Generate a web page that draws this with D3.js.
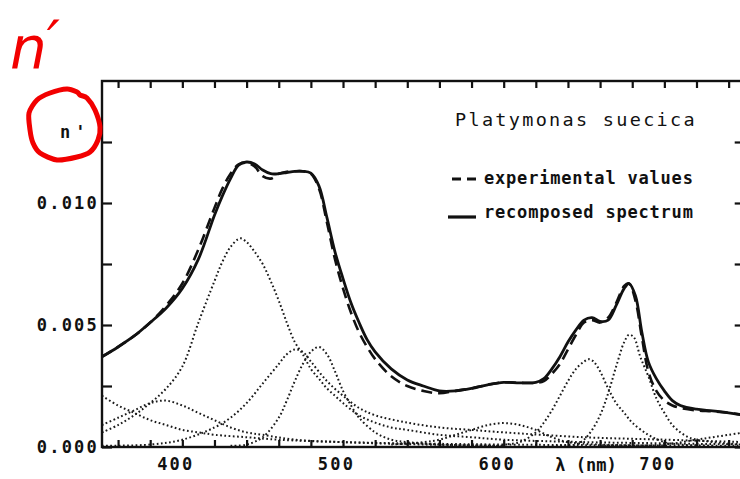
<!DOCTYPE html>
<html>
<head>
<meta charset="utf-8">
<script src="https://cdn.jsdelivr.net/npm/d3@7"></script>
<style>
  html, body { margin: 0; padding: 0; background: #fff; }
  svg { display: block; }
</style>
</head>
<body>
<script>
// ---------------- DATA ----------------
const lambda = [350,360,370,380,390,400,410,420,425,430,435,440,445,450,455,460,465,470,475,480,485,490,495,500,505,510,515,520,
  530,540,550,560,570,580,590,600,610,620,625,630,635,640,645,650,655,660,665,670,675,678,682,686,690,695,700,705,710,720,730,740,750];

const recomposed = [0.0037,0.0041,0.00455,0.0051,0.0057,0.0065,0.0077,0.0095,0.0103,0.0110,0.01155,0.01168,0.0116,0.01135,0.0112,0.0112,0.01125,0.0113,0.0113,0.01122,0.0107,0.0094,0.0080,0.0069,0.0059,0.0051,0.0044,0.0039,
  0.0032,0.00275,0.0025,0.0023,0.0023,0.0024,0.00255,0.00265,0.00263,0.00265,0.0028,0.0032,0.0037,0.0043,0.0048,0.0052,0.0053,0.00515,0.0052,0.0058,0.0065,0.0067,0.0062,0.0047,0.0035,0.0028,0.0023,0.0019,0.0017,0.00155,0.00148,0.0014,0.0013];

const experimental = [0.0037,0.0041,0.00455,0.0051,0.0058,0.0067,0.0081,0.0098,0.0106,0.0112,0.01158,0.01165,0.0115,0.0111,0.0110,0.0112,0.01128,0.0113,0.0113,0.0112,0.0106,0.0092,0.0077,0.0065,0.0055,0.0047,0.0041,0.0036,
  0.0029,0.0025,0.0023,0.0022,0.0023,0.0024,0.00255,0.00265,0.00263,0.00263,0.0027,0.0030,0.0034,0.0040,0.0046,0.0051,0.0052,0.0051,0.0053,0.0059,0.0066,0.0067,0.0060,0.0045,0.0031,0.0023,0.0019,0.0017,0.0016,0.0015,0.00146,0.0014,0.0013];

// Gaussian-like component bands: [wavelength nm, n']
const band436 = [[350,0.0006],[360,0.0009],[370,0.0013],[380,0.0018],[390,0.0024],[400,0.0033],[410,0.0051],[420,0.0068],[425,0.0076],[430,0.0082],[436,0.00855],[440,0.0084],[445,0.0080],[450,0.0075],[455,0.0068],[460,0.0060],[465,0.0051],[470,0.0043],[475,0.0038],[480,0.0032],[485,0.0028],[490,0.0024],[495,0.0021],[500,0.0018],[510,0.0013],[520,0.0010],[530,0.0008],[540,0.0007],[560,0.0005],[580,0.0004],[600,0.0003],[650,0.0002],[700,0.00015],[750,0.0001]];
const band470 = [[350,0.00005],[380,0.0001],[400,0.0003],[420,0.0008],[430,0.0012],[440,0.0018],[450,0.0026],[460,0.0034],[465,0.0038],[470,0.0040],[475,0.0039],[480,0.0035],[490,0.0027],[500,0.0021],[510,0.0016],[520,0.0013],[540,0.0010],[560,0.0008],[580,0.0007],[600,0.0006],[650,0.0004],[700,0.0003],[750,0.0002]];
const band485 = [[430,0.00005],[440,0.0001],[450,0.0004],[460,0.0012],[465,0.0019],[470,0.0027],[475,0.0034],[480,0.0039],[485,0.0041],[490,0.0038],[495,0.0031],[500,0.0023],[505,0.0017],[510,0.0012],[520,0.0006],[530,0.0003],[540,0.0002],[560,0.0001],[600,0.00005]];
const band390 = [[350,0.0009],[360,0.0012],[370,0.0015],[380,0.0018],[390,0.0019],[400,0.0017],[410,0.0014],[420,0.0011],[430,0.0008],[440,0.0006],[450,0.0005],[470,0.0003],[500,0.0002],[550,0.0001],[600,0.00005]];
const band340 = [[350,0.0021],[360,0.0017],[370,0.0014],[380,0.0011],[390,0.0009],[400,0.0007],[410,0.0006],[420,0.0005],[440,0.0004],[460,0.0003],[500,0.0002],[600,0.0001],[750,0.00005]];
const band600 = [[530,0.0001],[550,0.0002],[560,0.0003],[570,0.0005],[580,0.0007],[590,0.0009],[600,0.00098],[610,0.0009],[620,0.0007],[630,0.0004],[640,0.0002],[660,0.0001],[700,0.00005]];
const band653 = [[600,0.0001],[610,0.0002],[620,0.0006],[625,0.0010],[630,0.0015],[635,0.0021],[640,0.0027],[645,0.0032],[650,0.0035],[653,0.0036],[656,0.0035],[660,0.0031],[665,0.0024],[670,0.0018],[675,0.0014],[680,0.0010],[690,0.0005],[700,0.0002],[710,0.0001],[730,0.00005]];
const band678 = [[630,0.00005],[645,0.0001],[650,0.0003],[655,0.0007],[660,0.0013],[665,0.0022],[670,0.0033],[675,0.0043],[678,0.0046],[681,0.0045],[685,0.0037],[690,0.0029],[695,0.0020],[700,0.0014],[705,0.0009],[710,0.0006],[715,0.0004],[720,0.0003],[730,0.0002],[750,0.0001]];
const band750 = [[660,0.00005],[700,0.0001],[720,0.0003],[730,0.0004],[740,0.0005],[750,0.0006]];

const yTicks = [0, 0.0025, 0.005, 0.0075, 0.01, 0.0125];
const yLabeled = [0, 0.005, 0.01];
const xTicks = [360,380,400,420,440,460,480,500,520,540,560,580,600,620,640,660,680,700,720,740];
const xLabeled = [400, 500, 600, 700];

const titleText = "Platymonas suecica";
const legendLabels = ["experimental values", "recomposed spectrum"];
const xAxisLabel = "λ (nm)";
const yAxisLabel = "n'";
const annotation = "n";
const annotationPrime = "′";

// ---------------- DRAW ----------------
const W = 740, H = 479;
const svg = d3.select("body").append("svg").attr("width", W).attr("height", H);

const x = d3.scaleLinear().domain([350, 750]).range([102, 744.7]);
const y = d3.scaleLinear().domain([0, 0.015]).range([447, 81]);

const ink = "#111";
const mono = "'DejaVu Sans Mono', 'Liberation Mono', monospace";

// component bands (dotted)
const bandLine = d3.line().x(d => x(d[0])).y(d => y(d[1])).curve(d3.curveCatmullRom.alpha(0.5));
const bands = [band436, band470, band485, band390, band340, band600, band653, band678, band750];
svg.append("g").selectAll("path").data(bands).join("path")
  .attr("d", bandLine)
  .attr("fill", "none")
  .attr("stroke", "#1a1a1a")
  .attr("stroke-width", 2)
  .attr("stroke-dasharray", "1.7,2.5");

// spectra
const specLine = vals => d3.line()
  .x((d, i) => x(lambda[i])).y(d => y(d))
  .curve(d3.curveCatmullRom.alpha(0.5))(vals);

svg.append("path").attr("d", specLine(experimental))
  .attr("fill", "none").attr("stroke", ink).attr("stroke-width", 2.6)
  .attr("stroke-dasharray", "11,6");
svg.append("path").attr("d", specLine(recomposed))
  .attr("fill", "none").attr("stroke", ink).attr("stroke-width", 2.8);

// frame
svg.append("rect")
  .attr("x", x(350)).attr("y", y(0.015))
  .attr("width", x(750) - x(350)).attr("height", y(0) - y(0.015))
  .attr("fill", "none").attr("stroke", ink).attr("stroke-width", 2.4);

function styleAxis(g) {
  g.select(".domain").remove();
  g.selectAll(".tick line").attr("stroke", ink).attr("stroke-width", 2.2);
  g.selectAll(".tick text")
    .attr("fill", ink)
    .style("font-family", mono)
    .style("font-weight", "bold")
    .style("font-size", "17px")
    .style("letter-spacing", "2.2px");
}

svg.append("g").attr("transform", `translate(${x(350)},0)`)
  .call(d3.axisLeft(y).tickValues(yTicks).tickSizeInner(-10).tickSizeOuter(0).tickPadding(3)
    .tickFormat(d => yLabeled.includes(d) ? d3.format(".3f")(d) : ""))
  .call(styleAxis);

svg.append("g").attr("transform", `translate(${x(750)},0)`)
  .call(d3.axisRight(y).tickValues(yTicks).tickSizeInner(-10).tickSizeOuter(0).tickFormat(""))
  .call(styleAxis);

svg.append("g").attr("transform", `translate(0,${y(0)})`)
  .call(d3.axisBottom(x).tickValues(xTicks).tickSizeInner(-7).tickSizeOuter(0).tickPadding(11)
    .tickFormat(d => xLabeled.includes(d) ? String(d) : ""))
  .call(styleAxis)
  .call(g => g.selectAll(".tick text").attr("dx", -7));

svg.append("g").attr("transform", `translate(0,${y(0.015)})`)
  .call(d3.axisTop(x).tickValues(xTicks).tickSizeInner(-7).tickSizeOuter(0).tickFormat(""))
  .call(styleAxis);

// axis labels
svg.append("text").attr("x", 586).attr("y", 471).attr("text-anchor", "middle")
  .style("font-family", mono).style("font-weight", "bold").style("font-size", "17px")
  .style("letter-spacing", "0px").attr("fill", ink).text(xAxisLabel);

svg.append("text").attr("x", 60).attr("y", 138)
  .style("font-family", mono).style("font-weight", "bold").style("font-size", "17px")
  .style("letter-spacing", "5px").attr("fill", ink).text(yAxisLabel);

// title
svg.append("text").attr("x", 455).attr("y", 126)
  .style("font-family", mono).style("font-size", "18.5px")
  .style("letter-spacing", "2.3px").attr("fill", ink).text(titleText);

// legend
svg.append("line").attr("x1", 452).attr("x2", 478).attr("y1", 179).attr("y2", 179)
  .attr("stroke", ink).attr("stroke-width", 2.8).attr("stroke-dasharray", "9,6");
svg.append("line").attr("x1", 448).attr("x2", 476).attr("y1", 217).attr("y2", 217)
  .attr("stroke", ink).attr("stroke-width", 3.2);
svg.append("g").selectAll("text").data(legendLabels).join("text")
  .attr("x", 484).attr("y", (d, i) => i === 0 ? 184 : 218)
  .style("font-family", mono).style("font-weight", "bold").style("font-size", "17px")
  .style("letter-spacing", "0.8px").attr("fill", ink).text(d => d);

// red hand annotations
const red = "#f20000";
const ann = svg.append("text").attr("x", 10).attr("y", 68)
  .style("font-family", "'DejaVu Sans', sans-serif").style("font-style", "italic")
  .style("font-size", "58px").attr("fill", red);
ann.append("tspan").text(annotation);
ann.append("tspan").attr("dy", -6).text(annotationPrime);

const circlePts = [[77,92],[67,89],[50,93],[37,100],[29,113],[30,130],[33,143],[40,153],[57,160],[77,157],[90,152],[98,140],[100,127],[95,110],[87,98],[80,95]];
svg.append("path")
  .attr("d", d3.line().curve(d3.curveCardinalClosed.tension(0.2))(circlePts))
  .attr("fill", "none").attr("stroke", red).attr("stroke-width", 5)
  .attr("stroke-linejoin", "round");
</script>
</body>
</html>
